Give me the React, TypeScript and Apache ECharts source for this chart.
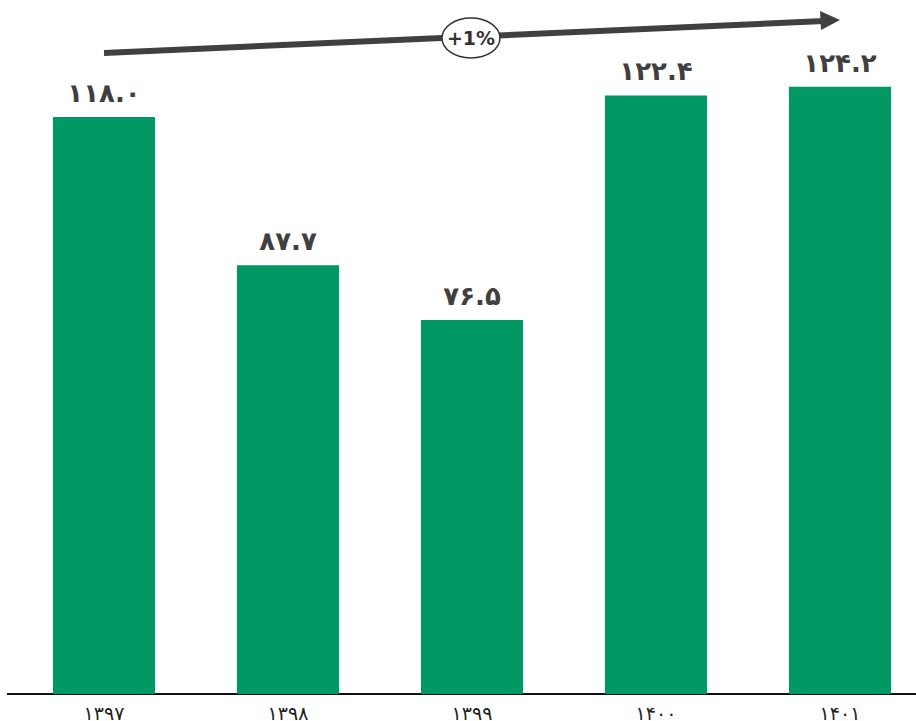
import React, { useEffect, useRef } from "react";
import * as echarts from "echarts";

const categories = ["۱۳۹۷", "۱۳۹۸", "۱۳۹۹", "۱۴۰۰", "۱۴۰۱"];
const values = [118.0, 87.7, 76.5, 122.4, 124.2];
const valueLabels = ["۱۱۸.۰", "۸۷.۷", "۷۶.۵", "۱۲۲.۴", "۱۲۴.۲"];
const growthLabel = "+1%";

const FONT = "'DejaVu Sans', 'Noto Sans', sans-serif";

export default function App() {
  const ref = useRef<HTMLDivElement>(null);
  useEffect(() => {
    if (!ref.current) return;
    const chart = echarts.init(ref.current, undefined, { renderer: "svg" });
    chart.setOption({
      animation: false,
      backgroundColor: "#ffffff",
      grid: { left: 12, top: 9.4, height: 684.6, width: 920, outerBoundsMode: "none", containLabel: false },
      xAxis: {
        type: "category",
        data: categories,
        axisLine: { show: true, lineStyle: { color: "#111111", width: 2 } },
        axisTick: { show: false },
        axisLabel: {
          fontFamily: FONT,
          fontSize: 19,
          color: "#222222",
          margin: 9,
        },
      },
      yAxis: {
        type: "value",
        min: 0,
        max: 140,
        show: false,
        splitLine: { show: false },
      },
      series: [
        {
          type: "bar",
          data: values,
          barWidth: "55.5%",
          itemStyle: { color: "#009865" },
          label: {
            show: true,
            position: "top",
            distance: 11,
            fontFamily: FONT,
            fontWeight: "bold",
            fontSize: 26,
            color: "#404040",
            formatter: (p: any) => valueLabels[p.dataIndex],
          },
        },
      ],
      graphic: [
        {
          type: "line",
          shape: { x1: 7, y1: 694, x2: 14, y2: 694 },
          style: { stroke: "#111111", lineWidth: 2 },
        },
        {
          type: "line",
          shape: { x1: 104, y1: 53, x2: 824, y2: 21 },
          style: { stroke: "#404040", lineWidth: 6 },
        },
        {
          type: "polygon",
          shape: { points: [[820, 11], [840, 20], [821, 30]] },
          style: { fill: "#404040" },
        },
        {
          type: "ellipse",
          shape: { cx: 471, cy: 38, rx: 29, ry: 20 },
          style: { fill: "#ffffff", stroke: "#333333", lineWidth: 1.5 },
        },
        {
          type: "text",
          x: 471,
          y: 38,
          style: {
            text: growthLabel,
            fontFamily: FONT,
            fontWeight: "bold",
            fontSize: 19,
            fill: "#333333",
            align: "center",
            verticalAlign: "middle",
          },
        },
      ],
    });
    return () => chart.dispose();
  }, []);
  return (
    <div
      ref={ref}
      style={{ position: "fixed", left: 0, top: 0, width: 916, height: 721, background: "#fff" }}
    />
  );
}
